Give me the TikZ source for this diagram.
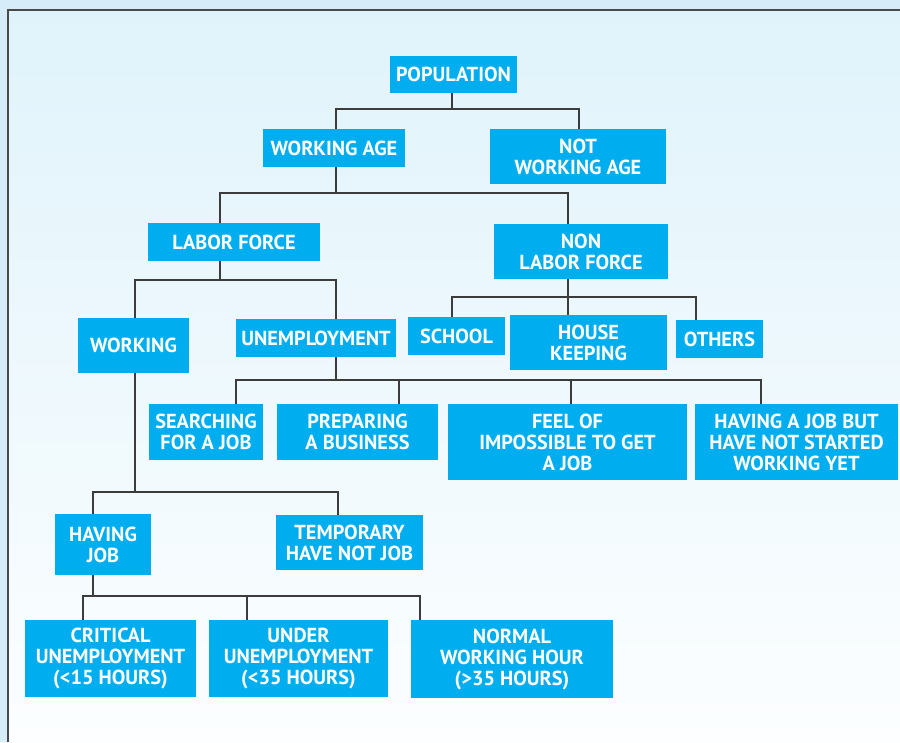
\documentclass[tikz,border=0pt]{standalone}
\usepackage{fontspec}
\newfontfamily\boxfont{PT Sans}
\definecolor{boxcyan}{HTML}{00AEEF}
\definecolor{outerblue}{HTML}{D6ECF8}
\definecolor{innertop}{HTML}{E0F3FB}
\definecolor{innerbot}{HTML}{FCFEFF}
\definecolor{linegray}{HTML}{3C3C3C}
\definecolor{framegray}{HTML}{4A4A4A}
\begin{document}
\begin{tikzpicture}[x=1pt,y=-1pt,
  bx/.style={fill=boxcyan,text=white,font=\boxfont\bfseries\fontsize{20.3}{21}\selectfont,
    align=center,inner sep=0pt,rectangle},
  conn/.style={draw=linegray,line width=1.6pt}]
\useasboundingbox (0,0) rectangle (900,742);
\fill[outerblue] (0,0) rectangle (900,742);
\shade[top color=innertop,bottom color=innerbot] (8,10) rectangle (900,742);
\draw[framegray,line width=1.8pt] (8,742) -- (8,10) -- (900,10);

\node[bx,minimum width=127pt,minimum height=37pt] (pop) at (453.5,74.5) {POPULATION};
\node[bx,minimum width=142pt,minimum height=38pt] (wa) at (334,148) {WORKING AGE};
\node[bx,minimum width=176pt,minimum height=55pt] (nwa) at (578,156.5) {NOT\\WORKING AGE};
\node[bx,minimum width=172pt,minimum height=38pt] (lf) at (234,242) {LABOR FORCE};
\node[bx,minimum width=174pt,minimum height=55pt] (nlf) at (581,251.5) {NON\\LABOR FORCE};
\node[bx,minimum width=111pt,minimum height=55pt] (wk) at (133.5,345.5) {WORKING};
\node[bx,minimum width=160pt,minimum height=38pt] (un) at (316,338) {UNEMPLOYMENT};
\node[bx,minimum width=97pt,minimum height=38pt] (sch) at (456.5,336) {SCHOOL};
\node[bx,minimum width=157pt,minimum height=55pt] (hk) at (588.5,342.5) {HOUSE\\KEEPING};
\node[bx,minimum width=87pt,minimum height=38pt] (oth) at (719.5,339) {OTHERS};
\node[bx,minimum width=114pt,minimum height=56pt] (srch) at (206,432) {SEARCHING\\FOR A JOB};
\node[bx,minimum width=161pt,minimum height=56pt] (prep) at (357.5,432) {PREPARING\\A BUSINESS};
\node[bx,minimum width=239pt,minimum height=76pt] (feel) at (567.5,442) {FEEL OF\\IMPOSSIBLE TO GET\\A JOB};
\node[bx,minimum width=203pt,minimum height=76pt] (hav) at (796.5,442) {HAVING A JOB BUT\\HAVE NOT STARTED\\WORKING YET};
\node[bx,minimum width=96pt,minimum height=61pt] (hj) at (103,544.5) {HAVING\\JOB};
\node[bx,minimum width=147pt,minimum height=55pt] (tmp) at (349.5,542.5) {TEMPORARY\\HAVE NOT JOB};
\node[bx,minimum width=171pt,minimum height=77pt] (crit) at (110.5,658.5) {CRITICAL\\UNEMPLOYMENT\\(<15 HOURS)};
\node[bx,minimum width=179pt,minimum height=77pt] (und) at (298.5,658.5) {UNDER\\UNEMPLOYMENT\\(<35 HOURS)};
\node[bx,minimum width=202pt,minimum height=78pt] (norm) at (512,659) {NORMAL\\WORKING HOUR\\(>35 HOURS)};

\draw[conn] (pop.south -| 452,0) -- ++(0,16) -| (wa.north -| 336,0);
\draw[conn] (pop.south -| 452,0) -- ++(0,16) -| (nwa.north -| 579,0);
\draw[conn] (wa.south -| 336,0) -- ++(0,26) -| (lf.north -| 220,0);
\draw[conn] (wa.south -| 336,0) -- ++(0,26) -| (nlf.north -| 568,0);
\draw[conn] (lf.south -| 220,0) -- ++(0,19) -| (wk.north -| 135,0);
\draw[conn] (lf.south -| 220,0) -- ++(0,19) -| (un.north -| 336,0);
\draw[conn] (nlf.south -| 568,0) -- ++(0,18) -| (sch.north -| 452,0);
\draw[conn] (nlf.south -| 568,0) -- ++(0,18) -| (hk.north -| 568,0);
\draw[conn] (nlf.south -| 568,0) -- ++(0,18) -| (oth.north -| 696,0);
\draw[conn] (un.south -| 336,0) -- ++(0,23) -| (srch.north -| 236,0);
\draw[conn] (un.south -| 336,0) -- ++(0,23) -| (prep.north -| 399,0);
\draw[conn] (un.south -| 336,0) -- ++(0,23) -| (feel.north -| 571,0);
\draw[conn] (un.south -| 336,0) -- ++(0,23) -| (hav.north -| 761,0);
\draw[conn] (wk.south -| 135,0) -- ++(0,119) -| (hj.north -| 93,0);
\draw[conn] (wk.south -| 135,0) -- ++(0,119) -| (tmp.north -| 338,0);
\draw[conn] (hj.south -| 93,0) -- ++(0,21) -| (crit.north -| 83,0);
\draw[conn] (hj.south -| 93,0) -- ++(0,21) -| (und.north -| 247,0);
\draw[conn] (hj.south -| 93,0) -- ++(0,21) -| (norm.north -| 420,0);
\end{tikzpicture}
\end{document}
